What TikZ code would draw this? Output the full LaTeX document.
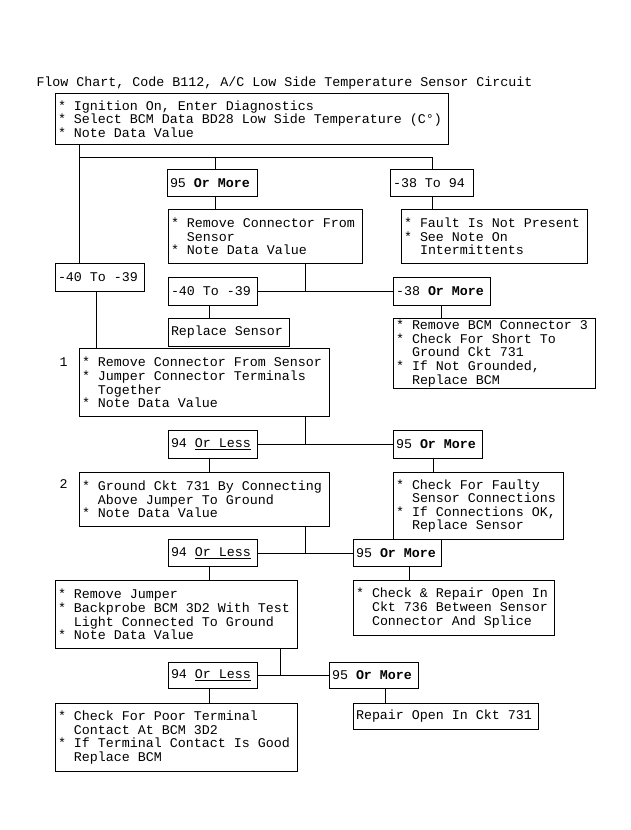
\documentclass[tikz,border=0pt]{standalone}
\usepackage{fontspec}
\setmainfont{Liberation Mono}
\usepackage{tikz}
\usetikzlibrary{positioning}
\newcommand{\bul}{{*}\ }
\newcommand{\indnt}{\hphantom{*\ }}
\tikzset{
    stepbox/.style 2 args={draw, anchor=north west, align=left, inner xsep=2.5pt, inner ysep=0pt, text width=#1, minimum height=#2},
    cond/.style={stepbox={#1}{27pt}}
}

\begin{document}
\begin{tikzpicture}[x=1pt, y=-1pt, line width=1pt, font=\fontsize{13.33pt}{13.6pt}\selectfont,
    execute at begin node={\spaceskip=0.6em\xspaceskip=0.6em\relax}]
    \path[use as bounding box, fill=white] (0,0) rectangle (630,830);
    \node[anchor=base west, inner sep=0pt] (title) at (36, 86) {Flow Chart, Code B112, A/C Low Side Temperature Sensor Circuit};
    % first test
    \node[stepbox={388pt}{51pt}] (start) at (55, 93) {\bul Ignition On, Enter Diagnostics\\\bul Select BCM Data BD28 Low Side Temperature (C°)\\\bul Note Data Value};
    \coordinate (fork) at (79, 157);
    \node[cond=85pt] (c95a) at (167, 169) {95 \textbf{Or More}};
    \node[cond=78pt] (c38a) at (390, 169) {-38 To 94};
    \node[stepbox={189pt}{54pt}] (sensor) at (168, 209) {\bul Remove Connector From\\\indnt Sensor\\\bul Note Data Value};
    \node[stepbox={181pt}{54pt}] (fault) at (401, 209) {\bul Fault Is Not Present\\\bul See Note On\\\indnt Intermittents};
    \node[stepbox={84pt}{28pt}] (cm40a) at (55, 263) {-40 To -39};
    \node[stepbox={84pt}{28pt}] (cm40b) at (168, 277) {-40 To -39};
    \node[stepbox={92pt}{28pt}] (c38b) at (393, 277) {-38 \textbf{Or More}};
    \node[stepbox={116pt}{28pt}] (replace) at (168, 318) {Replace Sensor};
    \node[stepbox={197pt}{70pt}] (bcm) at (393, 318) {\bul Remove BCM Connector 3\\\bul Check For Short To\\\indnt Ground Ckt 731\\\bul If Not Grounded,\\\indnt Replace BCM};
    % step 1
    \node[anchor=base, inner sep=0pt] (n1) at (63.5, 366) {1};
    \node[stepbox={245pt}{68pt}] (step1) at (79, 348) {\bul Remove Connector From Sensor\\\bul Jumper Connector Terminals\\\indnt Together\\\bul Note Data Value};
    \node[stepbox={84pt}{28pt}] (le94a) at (168, 430) {94 \underline{Or Less}};
    \node[stepbox={84pt}{28pt}] (c95b) at (393, 430) {95 \textbf{Or More}};
    % step 2
    \node[anchor=base, inner sep=0pt] (n2) at (63.5, 488) {2};
    \node[stepbox={245pt}{54pt}] (step2) at (79, 472) {\bul Ground Ckt 731 By Connecting\\\indnt Above Jumper To Ground\\\bul Note Data Value};
    \node[stepbox={165pt}{67pt}] (faulty) at (393, 472) {\bul Check For Faulty\\\indnt Sensor Connections\\\bul If Connections OK,\\\indnt Replace Sensor};
    \node[cond=84pt] (le94b) at (168, 539) {94 \underline{Or Less}};
    \node[cond=83pt] (c95c) at (353, 539) {95 \textbf{Or More}};
    \node[stepbox={237pt}{68pt}] (jumper) at (55, 580) {\bul Remove Jumper\\\bul Backprobe BCM 3D2 With Test\\\indnt Light Connected To Ground\\\bul Note Data Value};
    \node[stepbox={196pt}{55pt}] (open736) at (353, 580) {\bul Check \& Repair Open In\\\indnt Ckt 736 Between Sensor\\\indnt Connector And Splice};
    \node[stepbox={84pt}{26pt}] (le94c) at (168, 662) {94 \underline{Or Less}};
    \node[stepbox={84pt}{26pt}] (c95d) at (329, 662) {95 \textbf{Or More}};
    \node[stepbox={237pt}{68pt}] (poor) at (55, 703) {\bul Check For Poor Terminal\\\indnt Contact At BCM 3D2\\\bul If Terminal Contact Is Good\\\indnt Replace BCM};
    \node[stepbox={180pt}{26pt}] (open731) at (353, 703) {Repair Open In Ckt 731};
    % connectors
    \draw (start.south -| fork) -- (cm40a.north -| fork);
    \draw (fork) -| (c95a.north -| 215,0);
    \draw (fork) -| (c38a.north -| 432,0);
    \draw (c95a.south -| 215,0) -- (sensor.north -| 215,0);
    \draw (c38a.south -| 432,0) -- (fault.north -| 432,0);
    \draw (sensor.south -| 305,0) -- (cm40b.east -| 305,0);
    \draw (cm40b.east) -- (c38b.west);
    \draw (cm40b.south -| 209,0) -- (replace.north -| 209,0);
    \draw (c38b.south -| 441,0) -- (bcm.north -| 441,0);
    \draw (cm40a.south -| 96,0) -- (step1.north -| 96,0);
    \draw (step1.south -| 305,0) -- (le94a.east -| 305,0);
    \draw (le94a.east) -- (c95b.west);
    \draw (le94a.south -| 209,0) -- (step2.north -| 209,0);
    \draw (c95b.south -| 433,0) -- (faulty.north -| 433,0);
    \draw (step2.south -| 305,0) -- (le94b.east -| 305,0);
    \draw (le94b.east) -- (c95c.west);
    \draw (le94b.south -| 209,0) -- (jumper.north -| 209,0);
    \draw (c95c.south -| 409,0) -- (open736.north -| 409,0);
    \draw (jumper.south -| 280,0) -- (le94c.east -| 280,0);
    \draw (le94c.east) -- (c95d.west);
    \draw (le94c.south -| 209,0) -- (poor.north -| 209,0);
    \draw (c95d.south -| 385,0) -- (open731.north -| 385,0);
\end{tikzpicture}
\end{document}
